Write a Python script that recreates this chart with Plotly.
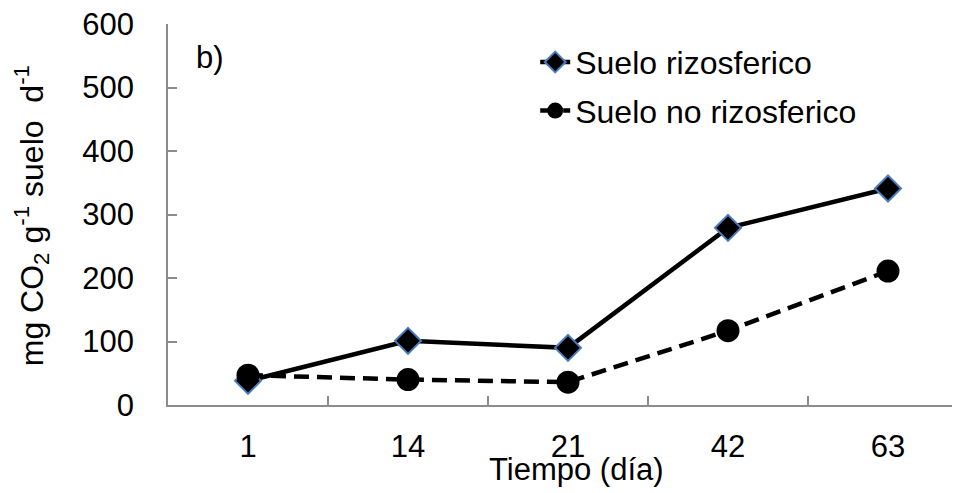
import plotly.graph_objects as go

categories = ["1", "14", "21", "42", "63"]
rizosferico = [38, 101, 90, 279, 341]
no_rizosferico = [47, 40, 36, 117, 211]
y_ticks = [0, 100, 200, 300, 400, 500, 600]

FONT = "Liberation Sans, Arial, sans-serif"

fig = go.Figure()
fig.add_trace(go.Scatter(
    x=categories, y=rizosferico, name="Suelo rizosferico", mode="lines+markers",
    legendgroup="a",
    line=dict(color="black", width=4.5),
    marker=dict(symbol="diamond", size=20, color="black",
                line=dict(color="#4a7ebb", width=2)),
))
fig.add_trace(go.Scatter(
    x=categories, y=no_rizosferico, name="Suelo no rizosferico", mode="lines+markers",
    legendgroup="b",
    line=dict(color="black", width=4.5, dash="15px,8px"),
    marker=dict(symbol="circle", size=23, color="black"),
))

# the page body adds an 8px offset; margins compensate for it
fig.update_layout(
    width=960, height=493,
    margin=dict(l=160, r=0, t=16, b=96),
    paper_bgcolor="white", plot_bgcolor="white",
    font=dict(family=FONT, color="black", size=32),
    showlegend=True,
    legend=dict(x=0.459, y=0.972, xanchor="left", yanchor="top",
                font=dict(size=32), tracegroupgap=4,
                bgcolor="rgba(0,0,0,0)"),
    xaxis=dict(
        type="category", range=[-0.5, 4.5], automargin=False,
        showline=True, linecolor="#8c8c8c", linewidth=1.5,
        ticks="inside", ticklen=9, tickcolor="#8c8c8c", tickwidth=1.5,
        tickson="boundaries", showgrid=False, zeroline=False,
        tickfont=dict(size=31), ticklabelstandoff=13, ticklabeloverflow="allow",
    ),
    yaxis=dict(
        range=[0, 600], tickvals=y_ticks, automargin=False,
        showline=True, linecolor="#8c8c8c", linewidth=1.5,
        ticks="inside", ticklen=9, tickcolor="#8c8c8c", tickwidth=1.5,
        showgrid=False, zeroline=False,
        tickfont=dict(size=31), ticklabelstandoff=26, ticklabeloverflow="allow",
    ),
    annotations=[
        dict(text="b)", x=0.0525, y=0.913,
             xref="paper", yref="paper", showarrow=False,
             font=dict(size=31), xanchor="center", yanchor="middle"),
        dict(text="Tiempo (día)", x=0.51, y=-0.168, xref="paper", yref="paper",
             showarrow=False, font=dict(size=31), xanchor="center", yanchor="middle"),
        dict(text="mg CO<sub>2</sub> g<sup>-1</sup> suelo\u00a0 d<sup>-1</sup>",
             x=-0.171, y=0.496, xref="paper", yref="paper", textangle=-90,
             showarrow=False, font=dict(size=32), xanchor="center", yanchor="middle"),
    ],
)

fig.write_html("out.html")
